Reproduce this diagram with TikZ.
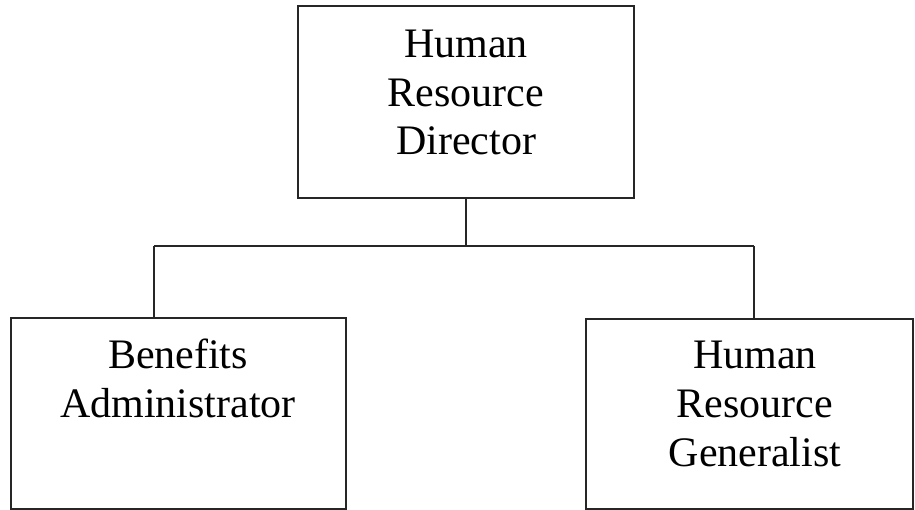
\documentclass[tikz,border=0pt]{standalone}
\usepackage{fontspec}
\setmainfont{Liberation Serif}
\begin{document}
\begin{tikzpicture}[x=1pt,y=-1pt,
  box/.style={draw=black!85, line width=1.6pt, inner sep=0pt, rectangle},
  lbl/.style={inner sep=0pt, anchor=base, font=\fontsize{42}{49}\selectfont},
  conn/.style={draw=black!85, line width=1.6pt}]
\useasboundingbox (0,0) rectangle (915,510);
\node[box, minimum width=336pt, minimum height=192pt] (top) at (466,102) {};
\node[box, minimum width=335pt, minimum height=191pt] (left) at (178.5,413.5) {};
\node[box, minimum width=327pt, minimum height=190pt] (right) at (749.5,414) {};
% texts
\node[lbl] (t1) at (466,58) {Human};
\node[lbl] (t2) at (466,106.5) {Resource};
\node[lbl] (t3) at (466,155) {Director};
\node[lbl] (l1) at (178,368) {Benefits};
\node[lbl] (l2) at (178,417.5) {Administrator};
\node[lbl] (r1) at (755,368) {Human};
\node[lbl] (r2) at (755,417) {Resource};
\node[lbl] (r3) at (755,466.5) {Generalist};
% connectors
\coordinate (j) at (466,246);
\coordinate (lj) at (154,246);
\coordinate (rj) at (754,246);
\draw[conn] (top.south) -- (j);
\draw[conn] (lj) -- (rj);
\draw[conn] (lj) -- (lj |- left.north);
\draw[conn] (rj) -- (rj |- right.north);
\end{tikzpicture}
\end{document}
